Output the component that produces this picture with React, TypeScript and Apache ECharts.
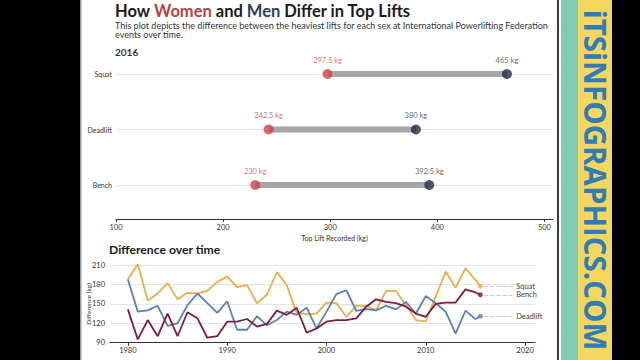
import React, { useEffect, useRef } from "react";
import * as echarts from "echarts";

// ---- Top chart data (2016) ----
const lifts = ["Squat", "Deadlift", "Bench"];
const womenTop = [297.5, 242.5, 230];
const menTop = [465, 380, 392.5];
const topTicks = [100, 200, 300, 400, 500];

// ---- Bottom chart data (difference over time) ----
const years = [
  1980, 1981, 1982, 1983, 1984, 1985, 1986, 1987, 1988, 1989,
  1990, 1991, 1992, 1993, 1994, 1995, 1996, 1997, 1998, 1999,
  2000, 2001, 2002, 2003, 2004, 2005, 2006, 2007, 2008, 2009,
  2010, 2011, 2012, 2013, 2014, 2015, 2015.5,
];
const squatDiff = [
  188, 211, 155, 166, 182, 157, 167, 166, 170, 184,
  192, 176, 179, 151, 164, 199, 179, 136, 134, 135,
  152, 151, 130, 147, 147, 140, 170, 170, 148, 125,
  123, 161, 200, 175, 205, 187, 177,
];
const benchDiff = [
  141.5, 95, 125, 100, 135, 100, 137, 127.6, 97.7, 100,
  122.5, 122.5, 126.6, 115, 119, 139.5, 133, 144, 105.5, 112,
  122.5, 125, 125, 127.6, 145.6, 157, 153, 151, 145.6, 135,
  130, 150, 152, 152, 172.4, 167.6, 164,
];
const deadliftDiff = [
  188, 138, 140, 147, 116, 120, 148, 166, 151, 136,
  154, 110, 110, 131, 117, 125, 138, 133, 144, 112,
  138, 165, 171, 139, 142, 140, 147, 141.5, 153, 135,
  162, 151, 138, 104, 139.5, 126.5, 131,
];
const yearTicks = [1980, 1990, 2000, 2010, 2020];
const labelEndYear = 2018.8;

const FONT = "Lato";
const SQUAT_C = "#E9AE47";
const BENCH_C = "#7B1E3F";
const DEAD_C = "#5C80BC";

function diffSeries(name: string, vals: number[], color: string, z: number) {
  const pts = years.map((y, i) => [y, vals[i]]);
  const last = pts[pts.length - 1];
  return [
    {
      type: "line",
      name,
      xAxisIndex: 1,
      yAxisIndex: 1,
      data: pts,
      showSymbol: false,
      clip: false,
      z,
      lineStyle: { color, width: 1.8 },
      markLine: {
        silent: true,
        symbol: "none",
        lineStyle: { type: "dashed", color: "#c8c8c8", width: 1 },
        label: {
          show: true,
          position: "end",
          formatter: name,
          color: "#444",
          fontSize: 7.5,
          fontFamily: FONT,
          distance: 3,
        },
        data: [[{ coord: [last[0] + 0.4, last[1]] }, { coord: [labelEndYear, last[1]] }]],
      },
    },
    {
      type: "scatter",
      xAxisIndex: 1,
      yAxisIndex: 1,
      data: [last],
      symbolSize: 5,
      z: z + 1,
      itemStyle: { color },
    },
  ];
}

export default function App() {
  const ref = useRef<HTMLDivElement>(null);
  useEffect(() => {
    document.body.style.margin = "0";
    const chart = echarts.init(ref.current!, null, { renderer: "svg" });
    const option: any = {
      animation: false,
      backgroundColor: "#ffffff",
      textStyle: { fontFamily: FONT },
      title: [
        {
          left: 115,
          top: 2,
          padding: 0,
          text: "{a|How }{w|Women}{a| and }{m|Men}{a| Differ in Top Lifts}",
          textStyle: {
            rich: {
              a: { fontSize: 16.5, fontWeight: "bold", color: "#1b1b1b", fontFamily: FONT },
              w: { fontSize: 16.5, fontWeight: "bold", color: "#B5433F", fontFamily: FONT },
              m: { fontSize: 16.5, fontWeight: "bold", color: "#2B3F5C", fontFamily: FONT },
            },
          },
        },
        {
          left: 115,
          top: 20.5,
          padding: 0,
          text:
            "This plot depicts the difference between the heaviest lifts for each sex at International Powerlifting Federation\nevents over time.",
          textStyle: { fontSize: 9, lineHeight: 9.5, color: "#333", fontWeight: "normal", fontFamily: FONT },
        },
        {
          left: 115,
          top: 47,
          padding: 0,
          text: "2016",
          textStyle: { fontSize: 10, fontWeight: "bold", color: "#333", fontFamily: FONT },
        },
        {
          left: 109,
          top: 243,
          padding: 0,
          text: "Difference over time",
          textStyle: { fontSize: 12.2, fontWeight: "bold", color: "#1b1b1b", fontFamily: FONT },
        },
      ],
      grid: [
        { left: 116, right: 87, top: 74, bottom: 175 },
        { left: 110, right: 105, top: 265, bottom: 17.3 },
      ],
      xAxis: [
        {
          type: "value",
          gridIndex: 0,
          min: 100,
          max: 508,
          offset: 34,
          splitLine: { show: false },
          axisLine: { show: true, lineStyle: { color: "#333", width: 1 } },
          axisTick: { show: true, length: 3, customValues: topTicks, lineStyle: { color: "#333" } },
          axisLabel: { customValues: topTicks, fontSize: 7.5, color: "#333", margin: 4, fontFamily: FONT },
          name: "Top Lift Recorded (kg)",
          nameLocation: "middle",
          nameGap: 15,
          nameMoveOverlap: false,
          nameTextStyle: { fontSize: 7, color: "#333", fontFamily: FONT },
        },
        {
          type: "value",
          gridIndex: 1,
          min: 1978.2,
          max: 2021,
          splitLine: { show: false },
          axisLine: { show: true, onZero: false, lineStyle: { color: "#333", width: 1 } },
          axisTick: { show: true, length: 3, customValues: yearTicks, lineStyle: { color: "#333" } },
          axisLabel: {
            customValues: yearTicks,
            formatter: (v: number) => String(v),
            fontSize: 7.5,
            color: "#333",
            margin: 4,
            fontFamily: FONT,
          },
        },
      ],
      yAxis: [
        {
          type: "category",
          gridIndex: 0,
          data: lifts,
          inverse: true,
          boundaryGap: false,
          axisLine: { show: false },
          axisTick: { show: false },
          splitLine: { show: true, lineStyle: { color: "#e6e6e6", width: 1 } },
          axisLabel: { fontSize: 7, color: "#333", margin: 4, fontFamily: FONT },
        },
        {
          type: "value",
          gridIndex: 1,
          min: 90,
          max: 210,
          interval: 30,
          axisLine: { show: false },
          axisTick: { show: false },
          splitLine: { show: true, lineStyle: { color: "#e3e3e3", width: 1 } },
          axisLabel: { fontSize: 7.5, color: "#333", margin: 5, fontFamily: FONT },
          name: "Difference (kg)",
          nameLocation: "middle",
          nameGap: 18,
          nameMoveOverlap: false,
          nameTextStyle: { fontSize: 6.5, color: "#333", fontFamily: FONT },
        },
      ],
      series: [
        {
          type: "custom",
          xAxisIndex: 0,
          yAxisIndex: 0,
          data: lifts.map((_, i) => [womenTop[i], menTop[i], i]),
          encode: { x: [0, 1], y: 2 },
          renderItem: (params: any, api: any) => {
            const p1 = api.coord([api.value(0), api.value(2)]);
            const p2 = api.coord([api.value(1), api.value(2)]);
            return {
              type: "line",
              shape: { x1: p1[0], y1: p1[1], x2: p2[0], y2: p2[1] },
              style: { stroke: "#a6a6a6", lineWidth: 6 },
            };
          },
          z: 2,
        },
        {
          type: "scatter",
          xAxisIndex: 0,
          yAxisIndex: 0,
          data: lifts.map((l, i) => [womenTop[i], l]),
          symbolSize: 10,
          z: 3,
          itemStyle: { color: "#CF434B" },
          label: {
            show: true,
            position: "top",
            distance: 5,
            formatter: (p: any) => `${p.value[0]} kg`,
            color: "#C2545C",
            fontSize: 7.5,
            fontFamily: FONT,
          },
        },
        {
          type: "scatter",
          xAxisIndex: 0,
          yAxisIndex: 0,
          data: lifts.map((l, i) => [menTop[i], l]),
          symbolSize: 10,
          z: 3,
          itemStyle: { color: "#1F2D47" },
          label: {
            show: true,
            position: "top",
            distance: 5,
            formatter: (p: any) => `${p.value[0]} kg`,
            color: "#3a3a3a",
            fontSize: 7.5,
            fontFamily: FONT,
          },
        },
        ...diffSeries("Squat", squatDiff, SQUAT_C, 4),
        ...diffSeries("Deadlift", deadliftDiff, DEAD_C, 5),
        ...diffSeries("Bench", benchDiff, BENCH_C, 6),
      ],
      graphic: [
        { type: "rect", shape: { x: 0, y: 0, width: 80, height: 360 }, style: { fill: "#000" } },
        { type: "rect", shape: { x: 80, y: 0, width: 1.5, height: 360 }, style: { fill: "#9a9a9a" } },
        { type: "rect", shape: { x: 557, y: 0, width: 2, height: 360 }, style: { fill: "#3a3a3a" } },
        { type: "rect", shape: { x: 561, y: 0, width: 17, height: 360 }, style: { fill: "#7ECDB3" } },
        { type: "rect", shape: { x: 578, y: 0, width: 34, height: 360 }, style: { fill: "#F5D65E" } },
        { type: "rect", shape: { x: 612, y: 0, width: 28, height: 360 }, style: { fill: "#000" } },
        {
          type: "text",
          x: 595,
          y: 180,
          rotation: -Math.PI / 2,
          style: {
            text: "iTSiNFOGRAPHICS.COM",
            fill: "#2E7DB8",
            fontSize: 29.5,
            fontWeight: "bold",
            fontFamily: "Open Sans",
            align: "center",
            verticalAlign: "middle",
          },
        },
      ],
    };
    chart.setOption(option);
    return () => chart.dispose();
  }, []);
  return <div ref={ref} style={{ width: 640, height: 360, position: "fixed", left: 0, top: 0 }} />;
}
